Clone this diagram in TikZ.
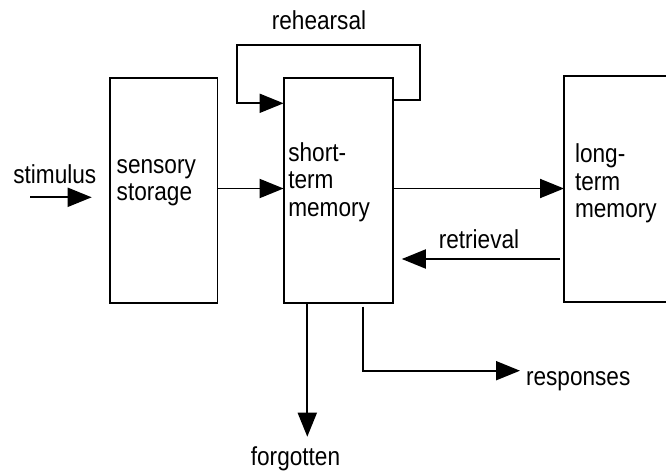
\documentclass[tikz,border=0pt]{standalone}
\usepackage{fontspec}
\setmainfont{Liberation Sans}[FakeStretch=0.87]
\usetikzlibrary{arrows.meta}
\begin{document}
\begin{tikzpicture}[x=1pt,y=-1pt,
  box/.style={draw,line width=1.9pt,inner sep=0pt,outer sep=0pt},
  txt/.style={inner sep=0pt,outer sep=0pt,font=\fontsize{26}{27.5}\selectfont},
  arr/.style={line width=1.9pt,-{Triangle[length=24pt,width=19pt]}}]
\useasboundingbox (0,0) rectangle (666,473);
\clip (0,0) rectangle (666,473);
% boxes
\node[box,minimum width=107.5pt,minimum height=225.6pt] (sens) at (163.75,190.5) {};
\node[box,minimum width=109.2pt,minimum height=225.6pt] (stm) at (338.2,190.5) {};
\node[box,minimum width=140pt,minimum height=225.7pt] (ltm) at (634,188.85) {};
% texts
\node[txt,anchor=base west] (sens1) at (116.7,173.3) {sensory};
\node[txt,anchor=base west] (sens2) at (116.7,200.3) {storage};
\node[txt,anchor=base west] (stm1) at (288.3,161.7) {short-};
\node[txt,anchor=base west] (stm2) at (288.3,189) {term};
\node[txt,anchor=base west] (stm3) at (288.3,216.7) {memory};
\node[txt,anchor=base west] (ltm1) at (575,162.7) {long-};
\node[txt,anchor=base west] (ltm2) at (575,190) {term};
\node[txt,anchor=base west] (ltm3) at (575,217) {memory};
\node[txt,anchor=base west] (stim) at (13.3,184) {stimulus};
\node[txt,anchor=base] (reh) at (319,30) {rehearsal};
\node[txt,anchor=base] (ret) at (479,248.3) {retrieval};
\node[txt,anchor=base] (forg) at (295.5,465) {forgotten};
\node[txt,anchor=base west] (resp) at (526,385) {responses};
% coordinates
\coordinate (stimA) at (30,197.3);
\coordinate (stimB) at (91.7,197.3);
\coordinate (rR) at (420,45);
\coordinate (rL) at (237,45);
\coordinate (fgTip) at (307.3,436.7);
\coordinate (rsTop) at (363.3,306.7);
\coordinate (rsTip) at (520,370.7);
% connectors
\draw[arr] (stimA) -- (stimB);
\draw[arr] (sens.east |- 0,188.5) -- (stm.west |- 0,188.5);
\draw[arr] (stm.east |- 0,188.5) -- (ltm.west |- 0,188.5);
\draw[arr,shorten <=4pt,shorten >=9pt] (ltm.west |- 0,259) -- (stm.east |- 0,259);
\draw[arr] (stm.east |- 0,100) -- (rR |- 0,100) -- (rR) -- (rL) -- (rL |- 0,103.3) -- (stm.west |- 0,103.3);
\draw[arr] (stm.south -| fgTip) -- (fgTip);
\draw[arr] (rsTop) |- (rsTip);
\end{tikzpicture}
\end{document}
